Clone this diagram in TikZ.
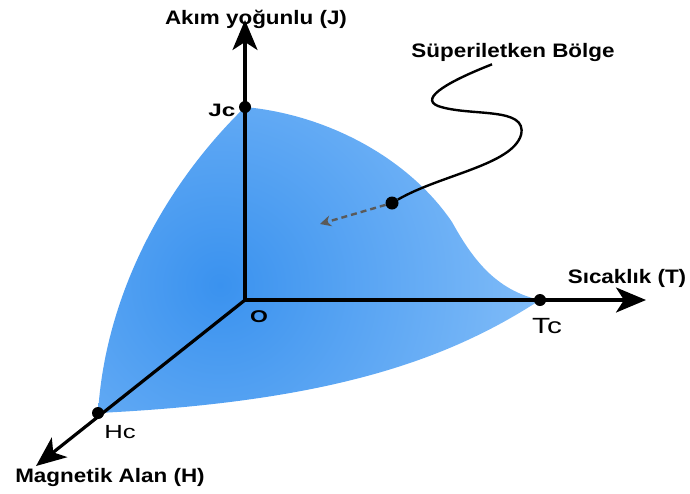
\documentclass[tikz,border=0pt]{standalone}
\usepackage{fontspec}
\usepackage{tikz}
\usepackage{xcolor}
\usetikzlibrary{arrows.meta,positioning,calc}
\newfontfamily\lblfont[FakeStretch=1.15]{Liberation Sans}
\newfontfamily\tagfont[FakeStretch=1.35]{Liberation Sans}
\definecolor{regdark}{RGB}{58,146,239}
\definecolor{reglight}{RGB}{152,202,251}
\definecolor{leadgray}{RGB}{90,90,90}

\begin{document}
\begin{tikzpicture}[
  x=1pt, y=-1pt,
  axis/.style={line width=3.2pt, -{Stealth[length=30pt,width=25pt,inset=8pt]}},
  dot/.style={circle, fill=black, inner sep=0pt, minimum size=12pt},
  axlabel/.style={anchor=base, inner sep=0pt, font=\lblfont\fontsize{19.5}{22}\selectfont\bfseries},
  tag/.style={anchor=base, inner sep=0pt, font=\tagfont\fontsize{19}{21}\selectfont}
]
\useasboundingbox (0,0) rectangle (690,493);
\coordinate (o) at (245,300);
\coordinate (jtip) at (245,20);
\coordinate (ttip) at (646,300);
\coordinate (htip) at (36,466);
\coordinate (jcp) at (245,107);
\coordinate (tcp) at (540,300);
\coordinate (hcp) at (98,413);

% superconducting region
\begin{scope}
  \clip (jcp) .. controls (330,115) and (410,160) .. (452,222)
        .. controls (472,258) and (495,290) .. (tcp)
        .. controls (445,362) and (325,402) .. (hcp)
        .. controls (105,300) and (160,190) .. (jcp) -- cycle;
  \shade[inner color=regdark, outer color=reglight] (220,285) circle (430);
\end{scope}

\draw[axis] (o) -- (jtip);
\draw[axis] (o) -- (ttip);
\draw[axis] (o) -- (htip);

\node[dot] (jc) at (jcp) {};
\node[dot] (tc) at (tcp) {};
\node[dot] (hc) at (hcp) {};
\node[dot, minimum size=13pt] (pick) at (392,203) {};
\coordinate (picktip) at (320,224);

\node[axlabel] (jlabel) at (256,24) {Akım yoğunlu (J)};
\node[axlabel] (tlabel) at (627,283) {Sıcaklık (T)};
\node[axlabel] (hlabel) at (110,482) {Magnetik Alan (H)};
\node[axlabel] (reglabel) at (513,57) {Süperiletken Bölge};

\node[tag, font=\tagfont\fontsize{18}{20}\selectfont\bfseries] (jctag) at (222,116) {Jc};
\node[tag, font=\tagfont\fontsize{17}{19}\selectfont\bfseries] (otag) at (259,322) {O};
\node[tag, font=\tagfont\fontsize{22}{24}\selectfont] (tctag) at (547,333) {Tc};
\node[tag] (hctag) at (120,438) {Hc};

\draw[line width=2.4pt] (reglabel.south) ++(-21,3)
  .. controls (452,80) and (418,98) .. (438,106)
  .. controls (470,117) and (528,106) .. (521,135)
  .. controls (512,165) and (440,175) .. (pick);
\draw[leadgray, line width=2.4pt, dash pattern=on 6pt off 4pt, -{Stealth[length=11pt,width=11pt]}] (pick) -- (picktip);
\end{tikzpicture}
\end{document}
